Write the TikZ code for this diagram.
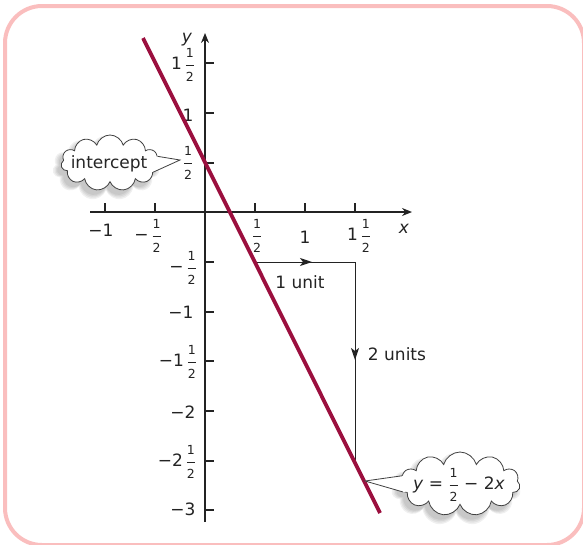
\documentclass[tikz,border=0pt]{standalone}
\usepackage{fontspec}
\usepackage{amsmath}
\setmainfont{DejaVu Sans}
\usetikzlibrary{arrows.meta,shapes.symbols}
\definecolor{framepink}{RGB}{250,190,190}
\definecolor{linered}{RGB}{155,15,62}
\definecolor{axisgray}{RGB}{35,35,35}
\newcommand\hf{\ensuremath{\genfrac{}{}{0.8pt}{0}{\text{\fontsize{12.5}{12.5}\selectfont 1}}{\text{\fontsize{12.5}{12.5}\selectfont 2}}}}
\tikzset{
  axisline/.style={axisgray, line width=1.2pt},
  tickmark/.style={axisgray, line width=2pt},
  lbl/.style={inner sep=0pt, text=axisgray},
  unitline/.style={axisgray, line width=1pt},
  unittip/.style={axisgray, line width=1pt, -{Stealth[length=12pt,width=8pt,inset=3pt]}},
  cloudbox/.style={cloud, cloud puffs=#1, cloud ignores aspect, draw=black!75, fill=white,
    line width=0.8pt, inner sep=0pt},
  cloudshade/.style={cloud, cloud puffs=#1, cloud ignores aspect, fill=black, opacity=0.06, inner sep=0pt}
}
\begin{document}
\begin{tikzpicture}[x=1pt,y=-1pt,font=\fontsize{17}{20}\selectfont]
\clip (0,0) rectangle (583,544);
\draw[framepink, line width=4pt, rounded corners=37pt] (5,6) rectangle (584,545);
% axes
\coordinate (xs) at (90,212); \coordinate (xe) at (412,212);
\coordinate (ys) at (205,522); \coordinate (ye) at (205,33);
\draw[axisline, -{Stealth[length=10pt,width=8pt]}] (xs) -- (xe);
\draw[axisline, -{Stealth[length=10pt,width=8pt]}] (ys) -- (ye);
% x ticks
\foreach \px in {105,155,255,305,355} \draw[tickmark] (\px,203) -- (\px,212);
% y ticks
\foreach \py in {63,113,163,262,312,361,411,461,510} \draw[tickmark] (205,\py) -- (214,\py);
% labels
\node[lbl] (ylab) at (187,40) {\textit{y}};
\node[lbl] (xlab) at (404,229) {\textit{x}};
\node[lbl] (y15) at (183,65) {1\,\hf};
\node[lbl] (y1) at (188,115) {1};
\node[lbl] (y05) at (188,163) {\hf};
\node[lbl] (ym05) at (183,268) {−\,\hf};
\node[lbl] (ym1) at (181,312) {−1};
\node[lbl] (ym15) at (178,362) {−1\,\hf};
\node[lbl] (ym2) at (183,412) {−2};
\node[lbl] (ym25) at (177,462) {−2\,\hf};
\node[lbl] (ym3) at (183,509) {−3};
\node[lbl] (xm1) at (101,230) {−1};
\node[lbl] (xm05) at (148,236) {−\,\hf};
\node[lbl] (x05) at (257,236) {\hf};
\node[lbl] (x1) at (305,237) {1};
\node[lbl] (x15) at (359,236) {1\,\hf};
% unit steps
\coordinate (A) at (255,262); \coordinate (B) at (355,262); \coordinate (C) at (355,461);
\coordinate (M1) at (312,262); \coordinate (M2) at (355,360);
\draw[unitline] (A) -- (B) -- (C);
\draw[unittip] (A) -- (M1);
\draw[unittip] (B) -- (M2);
\node[lbl] (u1) at (300,282) {1 unit};
\node[lbl] (u2) at (397,354) {2 units};
% line
\coordinate (L1) at (143,38); \coordinate (L2) at (380,513);
\draw[linered, line width=3.8pt] (L1) -- (L2);
% intercept cloud (soft shadow)
\foreach \g in {0,3,6,9}
  \node[cloudshade=11, minimum width=98pt+\g pt, minimum height=56pt+\g pt] at (106,168) {};
\node[cloudbox=11, minimum width=98pt, minimum height=56pt] (c1) at (110,163) {};
\coordinate (t1) at (180,160);
\fill[white] (c1.8) -- (t1) -- (c1.-12) -- (c1.center) -- cycle;
\draw[black!75, line width=0.8pt] (c1.8) -- (t1) -- (c1.-12);
\node[lbl, text=black!85] (c1t) at (109,164) {intercept};
% equation cloud
\foreach \g in {0,3,6,9}
  \node[cloudshade=11, minimum width=120pt+\g pt, minimum height=64pt+\g pt] at (456,489) {};
\node[cloudbox=11, minimum width=120pt, minimum height=64pt] (c2) at (460,484) {};
\coordinate (t2) at (365,481);
\fill[white] (c2.172) -- (t2) -- (c2.188) -- (c2.center) -- cycle;
\draw[black!75, line width=0.8pt] (c2.172) -- (t2) -- (c2.188);
\node[lbl, text=black!85] (c2t) at (459,485) {\textit{y} = \hf\ − 2\textit{x}};
\end{tikzpicture}
\end{document}
